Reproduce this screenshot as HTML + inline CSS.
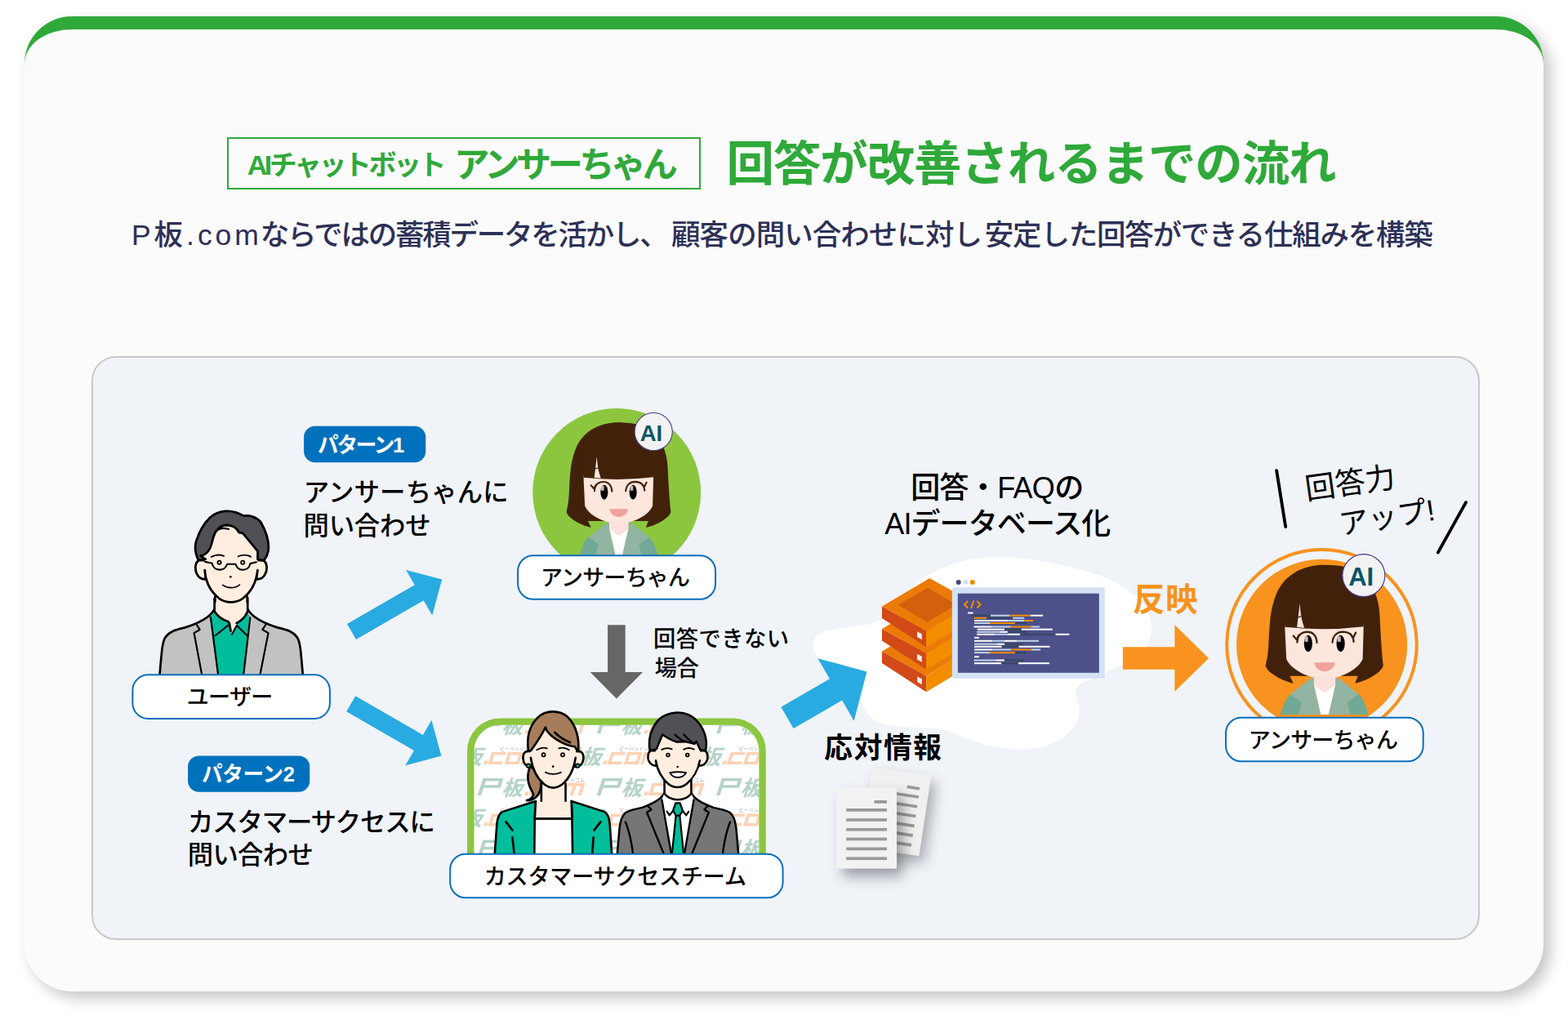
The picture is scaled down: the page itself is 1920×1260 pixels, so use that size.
<!DOCTYPE html><html lang="ja"><head><meta charset="utf-8"><title>回答が改善されるまでの流れ</title><style>
html,body{margin:0;padding:0;background:#fff;}
body{width:1920px;height:1260px;position:relative;overflow:hidden;font-family:"Liberation Sans",sans-serif;}
.card{position:absolute;left:30px;top:20px;width:1860px;height:1178px;box-sizing:content-box;border-top:16px solid #2fa93a;border-radius:58px;background:#fbfbfb;box-shadow:8px 8px 18px rgba(0,0,0,.23);}
.panel{position:absolute;left:112px;top:436.3px;width:1695.5px;height:711px;border:2px solid #c9c9c9;border-radius:30px;background:#f0f3f8;}
.tbox{position:absolute;left:278px;top:168px;width:576px;height:60px;border:2px solid #2fa93a;}
svg.layer{position:absolute;left:0;top:0;width:1920px;height:1260px;overflow:hidden;}
svg.layer text{font-family:"Liberation Sans","Noto Sans CJK JP",sans-serif;}
.t{position:absolute;margin:0;white-space:nowrap;color:transparent;line-height:1;font-weight:normal;}
</style></head><body>
<div class="card"></div><div class="panel"></div><div class="tbox"></div>
<svg class="layer" viewBox="0 0 1920 1260">
<defs><g id="girl"><path fill="#42210b" d="M510 115C380 115 230 170 165 330C120 440 118 560 112 680C108 760 100 800 90 840C100 890 200 945 290 968L265 915L380 915L650 915L755 915L735 968C830 945 925 890 938 840C928 760 918 600 912 470C905 350 860 250 800 190C720 130 620 115 510 115Z"/><path fill="#fde6dc" d="M228 540L797 540L790 790C770 850 680 905 595 926L437 926C350 905 260 850 240 790Z"/><path fill="#fde1de" d="M437 915L595 915L595 975L515 1032L437 975Z"/><path fill="#42210b" d="M228 562Q510 592 797 558L797 300L228 300Z"/><path fill="#fde6dc" d="M337 392L316 563L370 567C350 520 340 450 337 392Z"/><path d="M314 496L347 483" stroke="#42210b" stroke-width="8" fill="none"/><ellipse cx="397" cy="681" rx="30" ry="60" fill="#000"/><ellipse cx="631" cy="681" rx="30" ry="60" fill="#000"/><rect x="372" y="630" width="24" height="38" fill="#cdb5b5"/><rect x="608" y="630" width="24" height="38" fill="#cdb5b5"/><path fill="none" stroke="#42210b" stroke-width="13.5" stroke-linecap="round" d="M318 672C320 610 360 595 395 597C430 598 458 625 460 675M572 672C575 620 610 596 645 596C690 597 722 620 725 668M290 625L313 652M332 618L314 650M740 602L722 640M702 612L720 642"/><path fill="#f0a19b" d="M440 818L590 818C585 860 550 882 515 882C480 882 448 860 440 818Z"/><path fill="#fff" d="M437 975L515 1032L595 975L545 1192L487 1192Z"/><path fill="#92b4a2" d="M410 935L437 928L437 975L487 1192L330 1192L350 1105L268 1045ZM622 935L595 928L595 975L545 1192L700 1192L680 1105L762 1045Z"/><path fill="#71a996" d="M268 1045L350 1105L330 1192L198 1192C215 1130 235 1080 268 1045ZM762 1045L680 1105L700 1192L832 1192C815 1130 795 1080 762 1045Z"/><circle cx="797" cy="190" r="153" fill="#f2f2f2" stroke="#473c8e" stroke-width="7"/></g></defs>
<path fill="#fff" d="M996.5 786.0C997.7 782.8 997.6 778.8 1003.0 776.0C1008.4 773.2 1019.5 770.8 1029.0 769.0C1038.5 767.2 1051.2 767.0 1060.0 765.0C1068.8 763.0 1075.3 761.5 1082.0 757.0C1088.7 752.5 1094.0 744.5 1100.0 738.0C1106.0 731.5 1111.3 724.0 1118.0 718.0C1124.7 712.0 1131.0 706.8 1140.0 702.0C1149.0 697.2 1160.3 692.2 1172.0 689.0C1183.7 685.8 1196.2 683.3 1210.0 682.5C1223.8 681.7 1239.7 682.3 1255.0 684.0C1270.3 685.7 1287.0 689.2 1302.0 692.5C1317.0 695.8 1332.7 699.6 1345.0 704.0C1357.3 708.4 1366.8 712.8 1376.0 719.0C1385.2 725.2 1394.3 733.3 1400.0 741.0C1405.7 748.7 1409.2 757.0 1410.0 765.0C1410.8 773.0 1408.3 782.3 1405.0 789.0C1401.7 795.7 1397.2 799.8 1390.0 805.0C1382.8 810.2 1371.2 815.5 1362.0 820.0C1352.8 824.5 1341.5 829.1 1335.0 832.0C1328.5 834.9 1326.0 835.0 1323.0 837.5C1320.0 840.0 1317.8 843.9 1317.0 847.0C1316.2 850.1 1317.7 851.9 1318.5 856.0C1319.3 860.1 1322.0 866.6 1321.7 871.7C1321.4 876.8 1319.8 881.7 1316.7 886.7C1313.6 891.7 1309.1 897.3 1303.3 901.7C1297.5 906.1 1289.5 910.7 1281.7 913.3C1273.9 915.9 1265.0 916.9 1256.7 917.5C1248.4 918.1 1240.0 917.7 1231.7 916.7C1223.4 915.7 1215.0 913.9 1206.7 911.7C1198.4 909.5 1189.5 906.1 1181.7 903.3C1173.9 900.5 1167.0 896.9 1160.0 895.0C1153.0 893.1 1148.9 892.5 1140.0 891.7C1131.1 890.9 1116.2 890.8 1106.7 890.0C1097.2 889.2 1089.7 888.4 1083.3 886.7C1076.9 885.0 1072.5 883.1 1068.3 880.0C1064.1 876.9 1060.6 871.9 1058.3 868.3C1056.0 864.7 1057.2 863.0 1054.2 858.3C1051.2 853.6 1046.0 845.7 1040.0 840.0C1034.0 834.3 1024.3 829.7 1018.0 824.0C1011.7 818.3 1005.7 810.8 1002.0 806.0C998.3 801.2 996.9 798.3 996.0 795.0C995.1 791.7 995.3 789.2 996.5 786.0Z"/>
<polygon transform="translate(430.5 773.5) rotate(-30.0)" points="0.0,-11.0 95.5,-11.0 95.5,-32.1 127.8,0.0 95.5,32.1 95.5,11.0 0.0,11.0" fill="#29abe2"/>
<polygon transform="translate(429.7 861.7) rotate(30.0)" points="0.0,-11.0 95.5,-11.0 95.5,-32.1 127.8,0.0 95.5,32.1 95.5,11.0 0.0,11.0" fill="#29abe2"/>
<polygon transform="translate(754.9 765.2) rotate(90.0)" points="0.0,-10.8 57.8,-10.8 57.8,-32.2 90.3,0.0 57.8,32.2 57.8,10.8 0.0,10.8" fill="#666"/>
<polygon transform="translate(1374.9 806.0) rotate(0.0)" points="0.0,-13.8 63.5,-13.8 63.5,-40.8 105.2,0.0 63.5,40.8 63.5,13.8 0.0,13.8" fill="#f7931e"/>
<polygon transform="translate(964.0 878.9) rotate(-30.1)" points="0.0,-15.2 68.8,-15.2 68.8,-44.2 112.6,0.0 68.8,44.2 68.8,15.2 0.0,15.2" fill="#29abe2"/>
<g transform="translate(185 735) scale(.104167)" stroke="#000" stroke-width="26" stroke-linejoin="round" stroke-linecap="round"><path fill="#c2c2c2" d="M745 105C700 200 560 270 400 320C300 345 220 360 165 440C130 500 125 600 100 890L1785 890C1760 600 1755 500 1720 440C1665 360 1585 345 1485 320C1325 270 1185 200 1135 105Z"/><path fill="#00be9b" stroke="none" d="M745 140L700 200L790 890L1085 890L1165 205L1130 140Z"/><path fill="#ffeedf" stroke="none" d="M745 -20L745 130C790 200 850 235 905 250L920 272L937 362L950 400L1005 300L1005 268C1060 245 1110 190 1135 130L1135 -20Z"/><path fill="none" d="M745 -20V130C790 200 850 235 905 250L920 272L937 362M1135 -20V130C1110 190 1060 245 1005 268"/><path fill="none" stroke-width="21" d="M905 295L755 415M1008 298L1130 415M1005 300L950 400"/><path fill="none" stroke-width="21" d="M700 200L790 890M1165 205L1085 890M530 278L572 345L505 385L600 890M1350 283L1310 345L1378 385L1278 890"/></g><g transform="translate(225 615) scale(.111111)" stroke="#000" stroke-width="25" stroke-linejoin="round" stroke-linecap="round"><path fill="#ffeedf" stroke="none" d="M345 1000H700V1100H345Z"/><path fill="none" d="M345 1040V1100M700 1040V1100"/><path fill="#ffeedf" d="M170 640C125 655 118 740 145 790C165 830 200 850 240 848L262 640ZM873 640C918 655 925 740 898 790C880 830 845 850 805 848L785 640Z"/><path fill="#ffeedf" stroke="none" d="M230 250L230 750C240 880 300 990 390 1060C470 1115 570 1115 650 1060C740 990 800 880 815 750L815 250Z"/><path fill="none" d="M231 748C240 880 300 990 390 1060C470 1115 570 1115 650 1060C740 990 800 880 814 748"/><path fill="#505154" d="M160 635C130 570 112 500 140 420C170 330 220 230 300 160C380 95 520 65 660 150C720 140 800 160 850 220C890 290 935 400 935 500C935 560 905 620 880 642L815 628L815 540C760 470 700 400 650 340L610 335C590 290 540 252 470 252C400 255 345 310 325 390C305 470 290 540 230 575C215 583 200 587 185 588L240 628Z"/><path fill="none" stroke-width="19" d="M378 302C410 283 460 286 495 297"/><path fill="none" stroke-width="17" d="M305 602C350 576 400 576 442 592M600 596C640 576 700 576 738 600"/><path fill="none" stroke-width="19" d="M235 656L312 672C325 762 455 770 478 682L572 682C590 767 720 765 732 676L800 660"/><circle cx="392" cy="663" r="19" fill="#ffeedf" stroke-width="16"/><circle cx="650" cy="663" r="19" fill="#ffeedf" stroke-width="16"/><circle cx="516" cy="822" r="12" fill="#000" stroke="none"/><path fill="none" stroke-width="16" d="M430 912C480 950 560 955 615 910"/></g>
<defs><clipPath id="cpbox"><rect x="580.3" y="888" width="349.2" height="196" rx="32"/></clipPath><g id="logo"><g transform="skewX(-18)"><path fill="#b4d3c6" fill-rule="evenodd" d="M0 0V-21H25V-9.1H4.4V0ZM4.4 -17.4H20.7V-12.7H4.4Z"/><text x="29.4" y="-0.2" font-size="25.7" font-weight="bold" fill="#b4d3c6">板</text><path fill="#fdd2b3" fill-rule="evenodd" d="M57.3 0H61.7V-4.4H57.3ZM62.9 0V-15.1H80.4V-11.5H66.9V-3.6H80.4V0ZM83 0V-15.1H100.9V0ZM87 -3.6H96.9V-11.5H87ZM103.3 0V-15.1H127V0H123V-11.5H117.1V0H113.1V-11.5H107.3V0Z"/></g><text x="77.9" y="-17.3" font-size="5.4" letter-spacing="0.55" fill="#a3a3a3">ピーバンドットコム</text></g></defs><g clip-path="url(#cpbox)"><rect x="575" y="884" width="360" height="200" fill="#fff"/><use href="#logo" x="584.65" y="898.3"/><use href="#logo" x="730.90" y="898.3"/><use href="#logo" x="877.15" y="898.3"/><use href="#logo" x="534.45" y="936.0"/><use href="#logo" x="680.70" y="936.0"/><use href="#logo" x="826.95" y="936.0"/><use href="#logo" x="584.65" y="973.9"/><use href="#logo" x="730.90" y="973.9"/><use href="#logo" x="877.15" y="973.9"/><use href="#logo" x="534.45" y="1011.6"/><use href="#logo" x="680.70" y="1011.6"/><use href="#logo" x="826.95" y="1011.6"/><use href="#logo" x="584.65" y="1049.4"/><use href="#logo" x="730.90" y="1049.4"/><use href="#logo" x="877.15" y="1049.4"/></g>
<rect x="576.3" y="883.6" width="357.3" height="204" rx="36" fill="none" stroke="#8cc63f" stroke-width="8.4"/>
<g transform="translate(560 850) scale(.15873)" stroke="#000" stroke-width="16.5" stroke-linejoin="round" stroke-linecap="round"><path fill="#a67c5b" d="M560 560C530 640 545 700 585 765C590 790 565 812 535 820C585 825 625 790 640 740C650 700 650 650 640 600Z"/><path fill="#00be9b" d="M605 825L345 908C320 925 310 950 305 1000L288 1240L1192 1240L1176 1000C1172 950 1162 925 1137 908L880 825L885 960L597 960Z"/><path fill="#fff" d="M597 960H885L889 1240H594Z"/><path fill="#ffeedf" stroke="none" d="M648 640L648 822L605 828L597 955L885 955L880 828L835 822L835 640Z"/><path fill="none" d="M648 690V824M835 690V824M605 828L597 960M880 828L885 960M597 960H885"/><path fill="none" d="M375 985L425 1050M425 1105L440 1240M1105 985L1055 1050M1050 1105L1040 1240"/><path fill="#ffeedf" d="M548 440C508 440 500 480 512 520C522 550 545 562 575 560L590 440ZM932 440C972 440 980 480 968 520C958 550 935 562 905 560L890 440Z"/><path fill="#ffeedf" stroke="none" d="M560 250L566 500C580 580 615 650 670 695C715 730 765 730 810 695C865 650 898 580 912 500L920 250Z"/><path fill="none" d="M566 490C580 580 615 650 670 695C715 730 765 730 810 695C865 650 898 580 912 490"/><path fill="#a67c5b" d="M548 440C535 350 550 250 620 180C680 120 790 120 850 175C915 240 945 340 932 442L905 405C850 398 760 360 705 300C690 285 682 265 680 255C650 320 600 390 568 435Z"/><path fill="none" d="M752 295C785 330 830 355 870 372"/><circle cx="548" cy="552" r="15" fill="#00b894" stroke-width="10"/><circle cx="928" cy="552" r="15" fill="#00b894" stroke-width="10"/><path fill="none" stroke-width="11" d="M613 430C640 412 670 410 692 418M783 418C805 410 835 412 862 430"/><circle cx="665" cy="468" r="13" fill="#ffeedf" stroke-width="11"/><circle cx="813" cy="468" r="13" fill="#ffeedf" stroke-width="11"/><circle cx="738" cy="558" r="9" fill="#000" stroke="none"/><path fill="none" stroke-width="11" d="M680 603C715 622 765 622 800 603"/></g>
<g transform="translate(755 960) scale(.078125)" stroke="#000" stroke-width="32" stroke-linejoin="round" stroke-linecap="round"><path fill="#767676" d="M745 150C700 230 600 300 400 370C300 395 200 410 140 450C90 490 60 560 45 700L8 1120L1912 1120L1875 700C1860 560 1830 490 1780 450C1720 410 1620 395 1520 370C1320 300 1220 230 1175 150Z"/><path fill="#fff" stroke="none" d="M745 150L710 250L862 1120L1058 1120L1210 250L1175 150Z"/><path fill="none" stroke-width="30" d="M710 250L862 1120M1210 250L1058 1120"/><path fill="#ffeedf" d="M750 -60V150C800 215 880 245 960 245C1040 245 1120 215 1170 150V-60Z"/><path fill="#00bd9b" stroke-width="28" d="M930 495L990 495L1054 1120L866 1120ZM925 300L995 300L1035 415L990 495L930 495L885 415Z"/><path fill="none" stroke-width="28" d="M790 430L830 490L888 418M1130 430L1092 490L1032 418"/><path fill="none" stroke-width="30" d="M490 345L545 400L475 445L750 1120M1430 345L1375 400L1445 445L1170 1120M140 595C190 720 235 900 260 1120M1780 595C1730 720 1685 900 1660 1120"/></g><g transform="translate(785 865) scale(.087298)" stroke="#000" stroke-width="29" stroke-linejoin="round" stroke-linecap="round"><path fill="#ffeedf" d="M135 622C95 640 85 720 110 770C135 815 170 835 215 833L240 622ZM895 622C935 640 945 720 920 770C895 815 860 835 815 833L790 622Z"/><path fill="#ffeedf" stroke="none" d="M205 300L205 760C225 900 300 1020 380 1085C460 1150 560 1150 640 1085C720 1020 800 900 825 760L825 300Z"/><path fill="none" d="M206 758C225 900 300 1020 380 1085C460 1150 560 1150 640 1085C720 1020 800 900 824 758"/><path fill="#505154" d="M122 622C100 480 130 330 230 205C330 90 530 55 665 115C800 180 900 330 915 500C918 550 912 590 905 622L830 610L775 490L750 525L620 494L500 498C440 480 380 450 300 395L215 600Z"/><path fill="none" stroke-width="27" d="M475 395C520 440 570 475 618 492M600 395C650 450 700 500 750 525"/><path fill="none" stroke-width="22" d="M290 606C335 582 390 582 432 600M600 603C640 582 700 582 742 602"/><circle cx="378" cy="682" r="22" fill="#ffeedf" stroke-width="20"/><circle cx="650" cy="682" r="22" fill="#ffeedf" stroke-width="20"/><circle cx="512" cy="848" r="14" fill="#000" stroke="none"/><path fill="#fff" stroke-width="22" d="M405 930C480 916 555 916 630 930C600 982 560 996 515 996C470 996 430 982 405 930Z"/></g>
<circle cx="755.2" cy="603" r="103" fill="#8cc63f"/>
<use href="#girl" transform="translate(680 500) scale(.15081)"/>
<circle cx="1618.5" cy="789.2" r="116.3" fill="none" stroke="#f7931e" stroke-width="4"/>
<circle cx="1618.6" cy="789.3" r="104.6" fill="#f7931e"/>
<use href="#girl" transform="translate(1534.36 672.3) scale(.16996)"/>
<path fill="#d14a17" d="M1080 797.5L1134.2 827.5L1134.2 847.2L1080 812.0Z"/><path fill="#f28d00" d="M1134.2 827.5L1192 793.0L1192 812.7L1134.2 847.2Z"/><path fill="#ec7a08" d="M1138.3 763.0L1080 797.5L1134.2 827.5L1192 793.0Z"/><path fill="#eef0f6" d="M1123 828.2L1128.8 831.2L1128.8 838.3L1123 835.0Z"/><path fill="#d14a17" d="M1080 770.0L1134.2 800.0L1134.2 819.7L1080 784.5Z"/><path fill="#f28d00" d="M1134.2 800.0L1192 765.5L1192 785.2L1134.2 819.7Z"/><path fill="#ec7a08" d="M1138.3 735.5L1080 770.0L1134.2 800.0L1192 765.5Z"/><path fill="#eef0f6" d="M1123 800.7L1128.8 803.7L1128.8 810.8L1123 807.5Z"/><path fill="#d14a17" d="M1080 742.5L1134.2 772.5L1134.2 792.2L1080 757.0Z"/><path fill="#f28d00" d="M1134.2 772.5L1192 738.0L1192 757.7L1134.2 792.2Z"/><path fill="#ec7a08" d="M1138.3 708.0L1080 742.5L1134.2 772.5L1192 738.0Z"/><path fill="#eef0f6" d="M1123 773.2L1128.8 776.2L1128.8 783.3L1123 780.0Z"/><path fill="#d2600c" d="M1135.8 719.7L1099.7 740.8L1135.3 761.7L1171.5 740.6Z"/>
<rect x="1165.8" y="706.5" width="187" height="14" fill="#fff"/><rect x="1165.8" y="719.2" width="187" height="111.6" rx="2" fill="#d3e3f5"/><rect x="1172.8" y="726.7" width="173" height="97.1" fill="#4d5089"/><circle cx="1173.7" cy="713" r="3" fill="#45457f"/><circle cx="1182.5" cy="713" r="3" fill="#cfe0f5"/><circle cx="1190.8" cy="713" r="3" fill="#f18c00"/><path fill="none" stroke="#f18c00" stroke-width="2.1" d="M1185.2 736L1181 740.2L1185.2 744.4M1192.5 735.3L1189 745M1196.3 736L1200.5 740.2L1196.3 744.4"/><rect x="1185.3" y="749.5" width="6.3" height="2" fill="#fff"/><rect x="1189.2" y="752.7" width="23.8" height="2" fill="#33475f"/><rect x="1213.0" y="752.7" width="23.3" height="2" fill="#bfd6ee"/><rect x="1236.3" y="752.7" width="25.3" height="2" fill="#f18c00"/><rect x="1261.7" y="752.7" width="15.3" height="2" fill="#fff"/><rect x="1193.0" y="755.8" width="15.3" height="2" fill="#f18c00"/><rect x="1208.3" y="755.8" width="31.7" height="2" fill="#33475f"/><rect x="1240.0" y="755.8" width="14.2" height="2" fill="#bfd6ee"/><rect x="1193.0" y="759.0" width="41.2" height="2" fill="#fff"/><rect x="1234.2" y="759.0" width="20.0" height="2" fill="#bfd6ee"/><rect x="1254.2" y="759.0" width="10.8" height="2" fill="#f18c00"/><rect x="1193.0" y="762.0" width="19.0" height="2" fill="#bfd6ee"/><rect x="1212.0" y="762.0" width="31.0" height="2" fill="#f18c00"/><rect x="1243.0" y="762.0" width="14.0" height="2" fill="#33475f"/><rect x="1192.5" y="766.5" width="21.7" height="2" fill="#fff"/><rect x="1214.2" y="766.5" width="22.8" height="2" fill="#bfd6ee"/><rect x="1237.0" y="766.5" width="25.5" height="2" fill="#f18c00"/><rect x="1262.5" y="766.5" width="10.5" height="2" fill="#bfd6ee"/><rect x="1196.7" y="769.7" width="33.3" height="2" fill="#fff"/><rect x="1230.0" y="769.7" width="20.8" height="2" fill="#33475f"/><rect x="1250.8" y="769.7" width="38.0" height="2" fill="#fff"/><rect x="1196.3" y="772.8" width="27.8" height="2" fill="#bfd6ee"/><rect x="1224.2" y="772.8" width="9.7" height="2" fill="#fff"/><rect x="1233.8" y="772.8" width="23.2" height="2" fill="#33475f"/><rect x="1196.3" y="775.8" width="22.0" height="2" fill="#fff"/><rect x="1218.3" y="775.8" width="15.5" height="2" fill="#bfd6ee"/><rect x="1233.8" y="775.8" width="15.3" height="2" fill="#fff"/><rect x="1249.2" y="775.8" width="43.3" height="2" fill="#33475f"/><rect x="1292.5" y="775.8" width="17.0" height="2" fill="#fff"/><rect x="1193.0" y="779.8" width="5.8" height="2" fill="#fff"/><rect x="1193.0" y="783.8" width="22.3" height="2" fill="#fff"/><rect x="1215.3" y="783.8" width="14.7" height="2" fill="#bfd6ee"/><rect x="1230.0" y="783.8" width="15.5" height="2" fill="#fff"/><rect x="1245.5" y="783.8" width="26.5" height="2" fill="#bfd6ee"/><rect x="1193.0" y="787.7" width="27.8" height="2" fill="#bfd6ee"/><rect x="1220.8" y="787.7" width="9.2" height="2" fill="#fff"/><rect x="1230.0" y="787.7" width="23.3" height="2" fill="#33475f"/><rect x="1193.0" y="790.8" width="33.7" height="2" fill="#fff"/><rect x="1226.7" y="790.8" width="20.8" height="2" fill="#33475f"/><rect x="1247.5" y="790.8" width="38.0" height="2" fill="#fff"/><rect x="1193.0" y="794.5" width="22.0" height="2" fill="#fff"/><rect x="1215.0" y="794.5" width="23.0" height="2" fill="#bfd6ee"/><rect x="1238.0" y="794.5" width="25.0" height="2" fill="#f18c00"/><rect x="1263.0" y="794.5" width="11.2" height="2" fill="#bfd6ee"/><rect x="1193.0" y="798.2" width="19.0" height="2" fill="#bfd6ee"/><rect x="1212.0" y="798.2" width="31.0" height="2" fill="#f18c00"/><rect x="1243.0" y="798.2" width="14.0" height="2" fill="#33475f"/><rect x="1193.0" y="803.2" width="5.8" height="2" fill="#fff"/><rect x="1192.5" y="807.5" width="27.5" height="2" fill="#bfd6ee"/><rect x="1220.0" y="807.5" width="10.0" height="2" fill="#fff"/><rect x="1230.0" y="807.5" width="23.3" height="2" fill="#33475f"/><rect x="1193.0" y="811.2" width="33.2" height="2" fill="#fff"/><rect x="1226.2" y="811.2" width="20.8" height="2" fill="#33475f"/><rect x="1247.0" y="811.2" width="38.0" height="2" fill="#fff"/>
<defs><filter id="ds" x="-40%" y="-40%" width="200%" height="200%"><feGaussianBlur stdDeviation="8"/></filter></defs><g opacity=".38" filter="url(#ds)"><rect x="1075" y="947" width="73.3" height="99.6" transform="rotate(8.6 1067.8 938.9)" fill="#30343c"/></g><g transform="translate(1067.8 938.9) rotate(8.6)"><rect width="73.3" height="99.6" fill="#f0f0f0"/><rect x="46" y="16" width="15.5" height="3.7" fill="#999"/><rect x="12" y="26.3" width="50" height="3.7" fill="#999"/><rect x="12" y="38.2" width="50" height="3.7" fill="#999"/><rect x="12" y="50.1" width="50" height="3.7" fill="#999"/><rect x="12" y="62.0" width="50" height="3.7" fill="#999"/><rect x="12" y="73.9" width="50" height="3.7" fill="#999"/><rect x="12" y="85.8" width="50" height="3.7" fill="#999"/></g><g opacity=".45" filter="url(#ds)"><rect x="1032" y="974" width="74" height="99.2" fill="#30343c"/></g><rect x="1024" y="964.4" width="74" height="99.2" fill="#f2f2f2"/><rect x="1070.5" y="980" width="15.5" height="3.7" fill="#999"/><rect x="1036.2" y="990.0" width="49.8" height="3.7" fill="#999"/><rect x="1036.2" y="1002.1" width="49.8" height="3.7" fill="#999"/><rect x="1036.2" y="1013.9" width="49.8" height="3.7" fill="#999"/><rect x="1036.2" y="1025.6" width="49.8" height="3.7" fill="#999"/><rect x="1036.2" y="1037.5" width="49.8" height="3.7" fill="#999"/><rect x="1036.2" y="1049.4" width="49.8" height="3.7" fill="#999"/>
</svg>
<svg class="layer" viewBox="0 0 1920 1260">
<rect x="162.4" y="826.3" width="241.5" height="53.6" rx="19" fill="#fff" stroke="#0a6ebd" stroke-width="2"/>
<rect x="634.1" y="680.2" width="242.0" height="53.6" rx="19" fill="#fff" stroke="#0a6ebd" stroke-width="2"/>
<rect x="551.2" y="1045.7" width="407.4" height="53.6" rx="19" fill="#fff" stroke="#0a6ebd" stroke-width="2"/>
<rect x="1501.0" y="878.7" width="241.7" height="53.6" rx="19" fill="#fff" stroke="#0a6ebd" stroke-width="2"/>
<rect x="372.1" y="521.75" width="149.15" height="44.55" rx="13.5" fill="#0071bc"/>
<rect x="230.1" y="925.4" width="149.15" height="44.4" rx="13.5" fill="#0071bc"/><g fill="none" stroke="#000" stroke-width="41" stroke-linecap="round" stroke-linejoin="round"><g transform="translate(1550 555) scale(.09375)"><path d="M140 225L258 960"/></g><g transform="translate(1630 595) scale(.09375)"><path d="M1760 215L1395 870"/></g></g>
<text x="1600" y="612" transform="rotate(-8 1600 612)" font-size="37" fill="#000">回答力</text>
<text x="1642" y="655" transform="rotate(-9 1642 655)" font-size="36" fill="#000">アップ!</text>
<text x="302.8" y="213.6" font-size="34" font-weight="bold" fill="#2fa93a" textLength="243.6" lengthAdjust="spacing">AIチャットボット</text>
<text x="556.04" y="216.9" font-size="43.5" font-weight="bold" fill="#2fa93a" textLength="274" lengthAdjust="spacing">アンサーちゃん</text>
<text x="889.57" y="220.9" font-size="58.5" font-weight="bold" fill="#2fa93a" textLength="747" lengthAdjust="spacing">回答が改善されるまでの流れ</text>
<text x="160.9" y="300.3" font-size="35.5" font-weight="500" fill="#2d3056" textLength="156" lengthAdjust="spacing">P板.com</text>
<text x="318.8" y="300.3" font-size="35.5" font-weight="500" fill="#2d3056" textLength="500" lengthAdjust="spacing">ならではの蓄積データを活かし、</text>
<text x="822.03" y="300.3" font-size="35.5" font-weight="500" fill="#2d3056" textLength="381" lengthAdjust="spacing">顧客の問い合わせに対し</text>
<text x="1205.82" y="300.3" font-size="35.5" font-weight="500" fill="#2d3056" textLength="549" lengthAdjust="spacing">安定した回答ができる仕組みを構築</text>
<text x="389.07" y="553.7" font-size="25.6" font-weight="bold" fill="#fff" textLength="106.2" lengthAdjust="spacing">パターン1</text>
<text x="247.07" y="957.3" font-size="25.6" font-weight="bold" fill="#fff" textLength="113.8" lengthAdjust="spacing">パターン2</text>
<text x="371.82" y="613.7" font-size="31.4" font-weight="500" fill="#000" textLength="250.8" lengthAdjust="spacing">アンサーちゃんに</text>
<text x="371.57" y="654.8" font-size="31.4" font-weight="500" fill="#000" textLength="156" lengthAdjust="spacing">問い合わせ</text>
<text x="229.95" y="1018.2" font-size="31.4" font-weight="500" fill="#000" textLength="303" lengthAdjust="spacing">カスタマーサクセスに</text>
<text x="229.67" y="1058.25" font-size="31.4" font-weight="500" fill="#000" textLength="154.3" lengthAdjust="spacing">問い合わせ</text>
<text x="228.73" y="863.1" font-size="27" font-weight="500" fill="#000" textLength="105.6" lengthAdjust="spacing">ユーザー</text>
<text x="661.92" y="717" font-size="27" font-weight="500" fill="#000" textLength="183.1" lengthAdjust="spacing">アンサーちゃん</text>
<text x="1528.82" y="915.5" font-size="27" font-weight="500" fill="#000" textLength="183.1" lengthAdjust="spacing">アンサーちゃん</text>
<text x="592.65" y="1082.5" font-size="27" font-weight="500" fill="#000" textLength="321.3" lengthAdjust="spacing">カスタマーサクセスチーム</text>
<text x="800.03" y="791.65" font-size="27.3" font-weight="500" fill="#000" textLength="166.1" lengthAdjust="spacing">回答できない</text>
<text x="801.83" y="827.95" font-size="27.3" font-weight="500" fill="#000" textLength="54" lengthAdjust="spacing">場合</text>
<text x="1115.21" y="609.85" font-size="36" font-weight="500" fill="#000" textLength="212" lengthAdjust="spacing">回答・FAQの</text>
<text x="1083.29" y="654.1" font-size="36" font-weight="500" fill="#000" textLength="277" lengthAdjust="spacing">AIデータベース化</text>
<text x="1009.37" y="927.5" font-size="34.7" font-weight="bold" fill="#000" textLength="143.7" lengthAdjust="spacing">応対情報</text>
<text x="1387.01" y="748.2" font-size="39.6" font-weight="bold" fill="#f7931e" textLength="79.5" lengthAdjust="spacing">反映</text>
<text x="783.76" y="539.6" font-size="27.5" font-weight="bold" fill="#0b5567">AI</text>
<text x="1651.13" y="716.9" font-size="31" font-weight="bold" fill="#0b5567">AI</text>
</svg>
<h2 class="t" style="left:303.1px;top:183.7px;width:243.6px;height:34.0px;font-size:34.0px">AIチャットボット</h2>
<h2 class="t" style="left:557.7px;top:178.6px;width:273.9px;height:43.5px;font-size:43.5px">アンサーちゃん</h2>
<h1 class="t" style="left:894.2px;top:169.4px;width:746.8px;height:58.5px;font-size:58.5px">回答が改善されるまでの流れ</h1>
<p class="t" style="left:164.7px;top:269.0px;width:1592.0px;height:36.0px;font-size:35.5px">P板.comならではの蓄積データを活かし、顧客の問い合わせに対し安定した回答ができる仕組みを構築</p>
<p class="t" style="left:390.0px;top:531.2px;width:106.2px;height:25.6px;font-size:25.6px">パターン1</p>
<p class="t" style="left:248.0px;top:934.8px;width:113.8px;height:25.6px;font-size:25.6px">パターン2</p>
<p class="t" style="left:373.9px;top:586.1px;width:250.8px;height:31.4px;font-size:31.4px">アンサーちゃんに</p>
<p class="t" style="left:373.9px;top:627.2px;width:156.0px;height:31.4px;font-size:31.4px">問い合わせ</p>
<p class="t" style="left:232.0px;top:990.6px;width:303.0px;height:31.4px;font-size:31.4px">カスタマーサクセスに</p>
<p class="t" style="left:232.0px;top:1030.6px;width:154.3px;height:31.4px;font-size:31.4px">問い合わせ</p>
<p class="t" style="left:229.9px;top:839.3px;width:105.6px;height:27.0px;font-size:27.0px">ユーザー</p>
<p class="t" style="left:663.6px;top:693.2px;width:183.1px;height:27.0px;font-size:27.0px">アンサーちゃん</p>
<p class="t" style="left:1530.5px;top:891.7px;width:183.1px;height:27.0px;font-size:27.0px">アンサーちゃん</p>
<p class="t" style="left:594.3px;top:1058.7px;width:321.3px;height:27.0px;font-size:27.0px">カスタマーサクセスチーム</p>
<p class="t" style="left:802.3px;top:767.6px;width:166.1px;height:27.3px;font-size:27.3px">回答できない</p>
<p class="t" style="left:802.3px;top:803.9px;width:54.0px;height:27.3px;font-size:27.3px">場合</p>
<p class="t" style="left:1010.3px;top:897.0px;width:143.7px;height:34.7px;font-size:34.7px">応対情報</p>
<p class="t" style="left:1388.4px;top:713.4px;width:79.5px;height:39.6px;font-size:39.6px">反映</p>
<p class="t" style="left:784.0px;top:515.4px;width:27.8px;height:27.5px;font-size:27.5px">AI</p>
<p class="t" style="left:1651.4px;top:689.6px;width:31.8px;height:31.0px;font-size:31.0px">AI</p>
<p class="t" style="left:1118.0px;top:578.0px;width:208.0px;height:36.0px;font-size:36.0px">回答・FAQの</p>
<p class="t" style="left:1084.0px;top:622.0px;width:277.0px;height:36.0px;font-size:36.0px">AIデータベース化</p>
<p class="t" style="left:1600.0px;top:572.0px;width:110.0px;height:36.0px;font-size:34.0px">回答力</p>
<p class="t" style="left:1640.0px;top:615.0px;width:130.0px;height:36.0px;font-size:34.0px">アップ！</p>
</body></html>
